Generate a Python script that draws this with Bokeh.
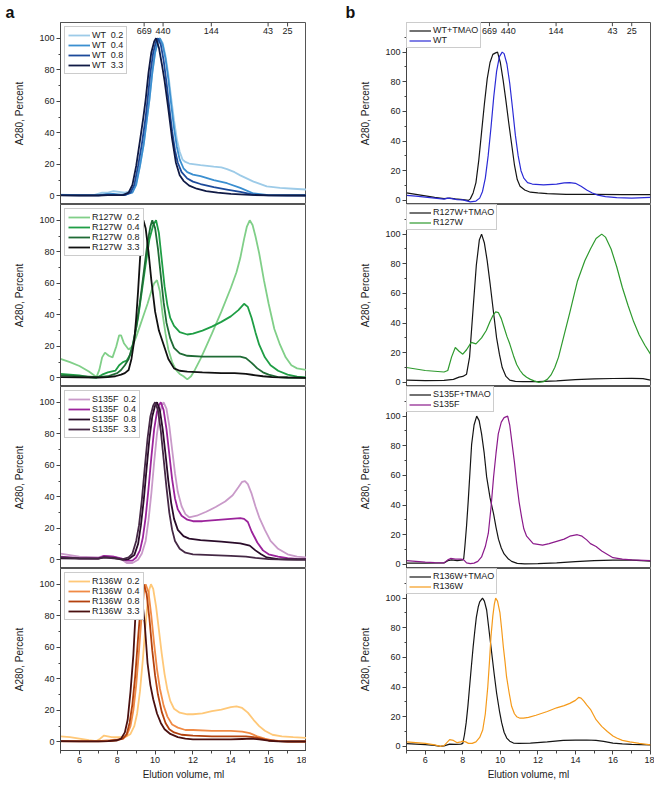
from bokeh.plotting import figure
from bokeh.layouts import column, row
from bokeh.models import Range1d, Legend, LegendItem, FixedTicker
from bokeh.embed import file_html
from bokeh.resources import INLINE
from bokeh.core.properties import value

FONT = "Liberation Sans"

# ---------------- molecular weight markers (kDa) ----------------
mw_labels = ["669", "440", "144", "43", "25"]
mw_volumes = [9.42, 10.42, 12.97, 15.97, 17.0]

# ---------------- panel a : WT ----------------
wt02_x = [5.0, 5.5, 6.0, 6.5, 6.8, 7.2, 7.5, 7.8, 8.1, 8.4, 8.7, 9.0, 9.2, 9.4, 9.58, 9.7, 9.85, 10.0, 10.15, 10.25, 10.4, 10.55, 10.7, 10.85, 11.0, 11.15, 11.3, 11.45, 11.6, 11.8, 12.4, 13.1, 13.5, 13.8, 14.2, 14.5, 15.2, 15.9, 16.6, 17.3, 18.0]
wt02_y = [0.8, 0.6, 0.5, 0.5, 0.6, 2, 2, 3, 2.5, 2, 3, 8, 19, 33, 50, 61, 78, 91, 98, 100, 97, 89, 77, 62, 48, 36, 28, 23, 21.5, 20.5, 19.5, 18.5, 18, 17, 15, 13, 9, 6, 5, 4.5, 4]
wt04_x = [5.0, 6.0, 7.0, 7.4, 7.8, 8.2, 8.5, 8.8, 9.0, 9.2, 9.4, 9.58, 9.7, 9.85, 10.0, 10.15, 10.25, 10.4, 10.55, 10.7, 10.85, 11.0, 11.15, 11.3, 11.5, 11.7, 12.0, 12.4, 13.1, 13.8, 14.5, 15.2, 16.0, 17.0, 18.0]
wt04_y = [0.6, 0.4, 0.4, 1.0, 1.2, 0.8, 1.0, 2, 7, 19, 33, 50, 61, 78, 91, 98, 100, 96, 87, 74, 58, 43, 31, 23, 17.5, 15, 13.5, 12.5, 10, 8, 5, 1.5, 0.5, 0.4, 0.4]
wt08_x = [5.0, 6.0, 7.0, 7.5, 8.0, 8.4, 8.7, 8.9, 9.1, 9.3, 9.5, 9.6, 9.75, 9.9, 10.05, 10.15, 10.3, 10.45, 10.6, 10.75, 10.9, 11.05, 11.2, 11.4, 11.7, 12.0, 12.4, 13.1, 13.8, 14.5, 15.2, 16.0, 17.0, 18.0]
wt08_y = [0.4, 0.3, 0.3, 0.8, 0.6, 0.5, 2, 7, 19, 33, 50, 61, 78, 91, 98, 100, 96, 86, 72, 56, 41, 29, 21, 15, 11, 9, 7.5, 5.5, 4, 2.5, 0.8, 0.3, 0.2, 0.2]
wt33_x = [5.0, 6.0, 7.0, 7.5, 8.0, 8.3, 8.6, 8.8, 9.0, 9.2, 9.38, 9.5, 9.65, 9.8, 9.95, 10.05, 10.2, 10.35, 10.5, 10.7, 10.9, 11.1, 11.3, 11.5, 11.8, 12.2, 12.7, 13.3, 14.0, 15.0, 16.0, 18.0]
wt33_y = [0.3, 0.2, 0.2, 0.5, 0.4, 0.5, 2, 7, 19, 35, 50, 61, 78, 91, 98, 100, 94, 84, 73, 55, 36, 21, 13, 9.5, 6.5, 4.5, 3, 2, 1.2, 0.6, 0.3, 0.2]

# ---------------- panel a : R127W ----------------
r127_02_x = [5.0, 5.5, 6.0, 6.5, 6.9, 7.05, 7.2, 7.35, 7.55, 7.75, 7.95, 8.1, 8.2, 8.35, 8.6, 8.8, 9.0, 9.2, 9.4, 9.6, 9.8, 9.95, 10.1, 10.25, 10.4, 10.55, 10.7, 10.9, 11.1, 11.3, 11.5, 11.7, 11.9, 12.1, 12.4, 12.7, 13.0, 13.5, 14.0, 14.3, 14.5, 14.7, 14.85, 15.0, 15.15, 15.3, 15.5, 15.75, 16.0, 16.3, 16.6, 16.9, 17.2, 17.5, 18.0]
r127_02_y = [12, 10, 7.5, 4, 0.5, 5, 13, 16, 14, 13, 20, 27, 27, 22, 18, 20, 26, 33, 40, 47, 55, 60, 62, 55, 40, 28, 18, 10, 5, 2.5, 1, -1, 1, 5, 12, 20, 28, 42, 57, 67, 76, 88, 96, 100, 97, 90, 79, 62, 47, 31, 21, 13, 8, 6, 5]
r127_04_x = [5.0, 5.5, 6.0, 6.5, 6.9, 7.2, 7.5, 7.9, 8.1, 8.3, 8.5, 8.7, 8.9, 9.1, 9.3, 9.5, 9.7, 9.9, 10.05, 10.2, 10.35, 10.5, 10.65, 10.8, 11.0, 11.3, 11.7, 12.0, 12.5, 13.0, 13.5, 14.0, 14.4, 14.7, 14.9, 15.1, 15.3, 15.5, 15.8, 16.1, 16.5, 17.0, 17.5, 18.0]
r127_04_y = [2.5, 2, 1.5, 0.5, 0, 2, 3.5, 4.5, 8, 10, 11, 15, 25, 38, 55, 72, 88, 97, 100, 92, 75, 58, 46, 38, 33, 29, 27.5, 28, 30, 32.5, 35.5, 39, 43, 47, 45, 38, 29, 21, 13, 8, 4.5, 2, 0.8, 0.3]
r127_08_x = [5.0, 6.0, 7.0, 7.5, 8.0, 8.2, 8.4, 8.6, 8.8, 9.0, 9.2, 9.4, 9.6, 9.75, 9.85, 10.0, 10.15, 10.3, 10.45, 10.6, 10.8, 11.0, 11.3, 11.7, 12.5, 13.5, 14.5, 14.8, 15.1, 15.4, 15.7, 16.0, 16.5, 17.0, 18.0]
r127_08_y = [1.5, 1, 0.5, 1, 3, 5, 8, 12, 20, 32, 48, 67, 86, 96, 100, 95, 82, 65, 48, 35, 25, 19, 15.5, 14, 13.5, 13.5, 13.5, 12.5, 9.5, 6, 3.5, 2, 0.5, 0.2, 0]
r127_33_x = [5.0, 6.0, 7.0, 7.5, 7.9, 8.2, 8.4, 8.6, 8.75, 8.9, 9.0, 9.1, 9.2, 9.3, 9.38, 9.5, 9.65, 9.8, 10.0, 10.2, 10.45, 10.7, 11.0, 11.3, 11.7, 12.5, 13.5, 14.2, 14.8, 15.2, 15.7, 16.2, 17.0, 18.0]
r127_33_y = [0.5, 0.3, 0.2, 0.5, 1, 2, 3, 5, 12, 24, 38, 55, 75, 92, 100, 95, 80, 62, 42, 30, 21, 12, 6, 4.5, 4, 3.5, 3, 3, 2.5, 1.8, 1, 0.5, 0.2, 0]

# ---------------- panel a : S135F ----------------
s135_02_x = [5.0, 5.5, 6.0, 7.0, 7.3, 7.8, 8.2, 8.5, 8.8, 9.1, 9.3, 9.5, 9.65, 9.8, 9.95, 10.1, 10.25, 10.35, 10.45, 10.6, 10.75, 10.9, 11.05, 11.2, 11.4, 11.6, 11.8, 12.2, 12.7, 13.2, 13.7, 14.1, 14.4, 14.6, 14.75, 14.9, 15.1, 15.3, 15.5, 15.8, 16.1, 16.5, 17.0, 17.5, 18.0]
s135_02_y = [4, 3, 2, 1.5, 2.5, 2, 0.5, -2, -2, 0, 4, 12, 25, 42, 62, 80, 93, 98, 100, 96, 85, 70, 55, 43, 34, 29, 27, 28, 30.5, 33.5, 37, 41, 46, 49.5, 50, 48, 42, 34, 27, 19, 12, 7, 3.5, 2, 1.5]
s135_04_x = [5.0, 6.0, 7.0, 7.3, 7.8, 8.2, 8.5, 8.8, 9.0, 9.2, 9.35, 9.5, 9.65, 9.8, 9.95, 10.1, 10.2, 10.3, 10.45, 10.6, 10.75, 10.9, 11.05, 11.2, 11.4, 11.7, 12.0, 12.5, 13.0, 13.5, 14.0, 14.5, 14.7, 14.9, 15.1, 15.4, 15.7, 16.0, 16.5, 17.0, 17.5, 18.0]
s135_04_y = [2, 1, 1, 2.5, 2, 1, -0.5, -0.5, 1.5, 6, 14, 27, 45, 65, 83, 94, 98, 100, 95, 83, 67, 51, 39, 32, 28, 25.5, 24.5, 24.5, 25, 25.5, 26, 26.5, 26, 24, 18, 11, 6, 3.5, 2, 1, 0.6, 0.4]
s135_08_x = [5.0, 6.0, 7.0, 7.3, 7.8, 8.3, 8.6, 8.9, 9.1, 9.25, 9.4, 9.55, 9.7, 9.85, 10.0, 10.1, 10.25, 10.4, 10.55, 10.7, 10.85, 11.0, 11.2, 11.5, 11.8, 12.4, 13.5, 14.5, 15.0, 15.3, 15.6, 15.9, 16.5, 17.5, 18.0]
s135_08_y = [1, 0.8, 0.8, 1.5, 1.2, 0, 0.5, 3, 10, 22, 38, 58, 77, 91, 98, 100, 95, 83, 67, 50, 36, 26, 19, 15, 13.5, 12.5, 11.5, 10.5, 9, 6, 3.5, 1.5, 0.5, 0.2, 0.2]
s135_33_x = [5.0, 6.0, 7.0, 7.3, 7.8, 8.3, 8.6, 8.8, 9.0, 9.15, 9.3, 9.45, 9.6, 9.75, 9.9, 10.0, 10.15, 10.3, 10.45, 10.6, 10.75, 10.9, 11.05, 11.3, 11.6, 12.0, 13.0, 14.0, 14.8, 15.3, 16.0, 17.0, 18.0]
s135_33_y = [1.5, 1, 0.8, 1.5, 1, 0.5, 1.5, 4, 12, 22, 38, 58, 77, 91, 98, 100, 95, 82, 64, 46, 30, 19, 12, 7, 4.5, 3.5, 3, 2.5, 2, 1.2, 0.5, 0.2, 0.2]

# ---------------- panel a : R136W ----------------
r136_02_x = [5.0, 5.5, 6.0, 6.5, 6.9, 7.1, 7.3, 7.5, 7.7, 8.0, 8.3, 8.5, 8.7, 8.9, 9.05, 9.2, 9.35, 9.5, 9.6, 9.7, 9.78, 9.9, 10.05, 10.2, 10.35, 10.5, 10.65, 10.8, 11.0, 11.3, 11.7, 12.0, 12.5, 13.0, 13.5, 14.0, 14.3, 14.6, 14.9, 15.2, 15.5, 15.8, 16.2, 16.7, 17.3, 18.0]
r136_02_y = [3.5, 3, 2, 1, 0.5, 2, 4, 3.5, 3, 3, 3, 3.5, 5, 10, 18, 32, 52, 75, 88, 97, 100, 97, 86, 71, 56, 43, 33, 26, 21, 18.5, 17.5, 17.5, 18, 19.5, 20.5, 22, 22.5, 21.5, 18.5, 14, 10, 7, 4.5, 3.5, 3, 2.5]
r136_04_x = [5.0, 6.0, 7.0, 7.6, 8.0, 8.3, 8.5, 8.7, 8.85, 9.0, 9.15, 9.3, 9.42, 9.5, 9.65, 9.8, 9.95, 10.1, 10.25, 10.45, 10.65, 10.9, 11.2, 11.6, 12.0, 13.0, 14.0, 14.6, 15.0, 15.4, 15.8, 16.2, 16.6, 17.2, 18.0]
r136_04_y = [0.5, 0.5, 0.5, 1, 1.5, 2, 4, 10, 20, 36, 58, 82, 96, 100, 95, 80, 62, 46, 34, 23, 16, 11, 9, 7.5, 7.5, 7, 7, 6.5, 5.5, 3.5, 2, 1, 0.5, 0.2, 0.2]
r136_08_x = [5.0, 6.0, 7.0, 7.6, 8.0, 8.3, 8.5, 8.65, 8.8, 8.95, 9.1, 9.25, 9.4, 9.55, 9.7, 9.85, 10.0, 10.15, 10.35, 10.55, 10.75, 11.0, 11.4, 12.0, 13.0, 14.0, 14.8, 15.2, 15.6, 16.0, 16.5, 17.0, 18.0]
r136_08_y = [0.3, 0.3, 0.3, 0.5, 1, 2, 5, 12, 24, 42, 66, 88, 100, 94, 78, 58, 42, 30, 19, 12, 8, 6, 4.5, 4, 3.5, 3.5, 3.5, 3, 2, 1, 0.4, 0.2, 0.2]
r136_33_x = [5.0, 6.0, 7.0, 7.5, 8.0, 8.2, 8.4, 8.55, 8.7, 8.85, 8.95, 9.05, 9.14, 9.3, 9.45, 9.6, 9.75, 9.9, 10.1, 10.3, 10.5, 10.8, 11.2, 11.6, 12.0, 13.0, 14.0, 14.6, 15.1, 15.5, 16.0, 16.5, 17.0, 18.0]
r136_33_y = [0.5, 0.3, 0.3, 0.5, 1, 2, 6, 14, 32, 55, 78, 93, 100, 92, 75, 50, 36, 27, 18, 12, 8, 5, 3, 2, 1.5, 1.5, 1.5, 1.8, 2, 1.5, 0.7, 0.3, 0.2, 0.2]

# ---------------- panel b ----------------
wtt_x = [5.0, 5.5, 6.0, 6.5, 7.0, 7.3, 7.6, 8.0, 8.3, 8.4, 8.55, 8.7, 8.85, 9.0, 9.15, 9.3, 9.45, 9.6, 9.75, 9.85, 10.0, 10.15, 10.3, 10.45, 10.6, 10.75, 10.9, 11.05, 11.3, 11.6, 12.0, 12.5, 13.5, 15.0, 16.5, 18.0]
wtt_y = [5, 4, 3, 2, 1.2, 1.5, 1, 0.5, 0, 1, 5, 12, 27, 46, 65, 82, 93, 98.5, 99.5, 100, 93, 81, 67, 52, 38, 24, 14, 9.5, 7, 5.5, 5, 4.5, 4, 4, 3.8, 3.8]
wt_x = [5.0, 5.5, 6.0, 6.5, 7.0, 7.2, 7.4, 7.7, 8.0, 8.4, 8.7, 8.9, 9.05, 9.2, 9.35, 9.5, 9.65, 9.8, 9.95, 10.1, 10.2, 10.35, 10.5, 10.65, 10.8, 10.95, 11.1, 11.25, 11.45, 11.7, 12.3, 13.0, 13.4, 13.7, 14.0, 14.3, 14.6, 14.9, 15.2, 15.6, 16.2, 17.0, 18.0]
wt_y = [3.3, 2.8, 2.2, 1.5, 0.8, 1.5, 1.2, 0.5, 0.3, -1, -0.5, 1.5, 6, 15, 30, 49, 70, 87, 97, 100, 99, 92, 79, 62, 44, 30, 20, 15, 12, 11, 10.5, 11, 11.8, 12, 11.5, 9.5, 7, 5, 3.5, 2.5, 1.8, 1.5, 2]

r127t_x = [5.0, 6.0, 7.0, 7.5, 7.8, 8.0, 8.2, 8.36, 8.55, 8.72, 8.88, 9.0, 9.15, 9.3, 9.45, 9.6, 9.8, 9.95, 10.1, 10.3, 10.5, 10.8, 11.2, 12.0, 13.0, 14.0, 15.0, 16.0, 17.0, 17.6, 18.0]
r127t_y = [1.5, 1.2, 1.3, 2, 3.5, 4, 5.5, 17, 50, 79, 96, 100, 94, 82, 67, 51, 30, 19, 10, 4, 1.5, 0.7, 0.5, 0.5, 1, 1.8, 2.3, 2.6, 2.7, 2.5, 1.5]
r127_x = [5.0, 5.5, 6.0, 6.5, 7.0, 7.2, 7.4, 7.6, 7.8, 8.0, 8.2, 8.45, 8.7, 9.0, 9.25, 9.45, 9.6, 9.75, 9.9, 10.05, 10.2, 10.35, 10.5, 10.7, 10.87, 11.05, 11.2, 11.4, 11.6, 11.8, 12.05, 12.3, 12.5, 12.7, 12.9, 13.1, 13.4, 13.7, 14.1, 14.5, 14.8, 15.1, 15.4, 15.6, 15.9, 16.2, 16.5, 16.8, 17.1, 17.4, 17.7, 18.0]
r127_y = [10, 9, 8, 7.5, 7, 8, 17, 23.5, 21, 19, 22, 27, 26, 30, 35, 41, 45, 47.5, 47, 43, 37, 31, 26, 18, 12, 8, 5.5, 3.5, 2, 1, 0, 0.5, 2, 5, 10, 17, 32, 47, 68, 82, 90, 97, 100, 98, 90, 78, 64, 52, 41, 32, 25, 19]

s135t_x = [5.0, 6.0, 7.0, 7.2, 7.4, 7.7, 8.0, 8.05, 8.11, 8.2, 8.29, 8.38, 8.47, 8.6, 8.74, 8.87, 9.0, 9.14, 9.27, 9.45, 9.64, 9.77, 9.9, 10.05, 10.2, 10.4, 10.6, 10.9, 11.3, 12.0, 13.0, 14.0, 15.0, 16.0, 17.0, 18.0]
s135t_y = [0.8, 0.8, 1, 2.5, 3, 2.5, 3, 4, 12, 26, 43, 62, 81, 94, 100, 97, 88, 75, 59, 45, 34, 25, 17, 11, 7, 4, 2, 0.7, 0.3, 0.5, 1, 1.8, 2.5, 2.8, 2.8, 2.2]
s135_x = [5.0, 5.5, 6.0, 6.5, 7.0, 7.2, 7.35, 7.6, 7.9, 8.05, 8.2, 8.4, 8.6, 8.8, 9.0, 9.2, 9.36, 9.5, 9.64, 9.77, 9.89, 10.05, 10.2, 10.39, 10.5, 10.6, 10.75, 10.87, 11.0, 11.13, 11.25, 11.4, 11.75, 12.25, 12.6, 13.0, 13.4, 13.7, 14.1, 14.35, 14.6, 14.8, 15.1, 15.4, 15.8, 16.0, 16.5, 17.0, 18.0]
s135_y = [2.5, 2, 1.5, 1.2, 1, 3, 4, 3.5, 3.5, 3, 1, 0.5, 0.8, 2, 5, 12, 21, 38, 59, 75, 88, 96, 99, 100, 94, 84, 69, 55, 42, 32, 24, 19, 14, 13, 14, 15.5, 17, 19, 20, 19, 16.5, 14, 12, 9, 6, 4.5, 3.5, 3, 2.5]

r136t_x = [5.0, 5.5, 6.0, 6.5, 6.8, 7.0, 7.3, 7.6, 7.9, 8.0, 8.09, 8.18, 8.27, 8.36, 8.45, 8.55, 8.64, 8.72, 8.82, 8.9, 9.05, 9.15, 9.27, 9.4, 9.54, 9.67, 9.8, 9.95, 10.07, 10.2, 10.34, 10.5, 10.7, 11.0, 11.6, 12.5, 13.35, 14.0, 14.6, 15.1, 15.5, 16.0, 16.5, 17.0, 18.0]
r136t_y = [1.8, 1.5, 1.2, 0.7, 0, 0.3, 1.5, 1.3, 1.5, 2, 8, 16, 27, 40, 53, 67, 78, 87, 94, 97.5, 100, 98, 92, 78, 63, 49, 36, 24, 16, 9.5, 5.6, 3.5, 2.2, 2, 2.2, 3, 4, 4.2, 4.3, 4, 3.3, 2.2, 1.7, 1.3, 1]
r136_x = [5.0, 5.5, 6.0, 6.5, 6.8, 7.0, 7.15, 7.3, 7.5, 7.7, 7.9, 8.0, 8.15, 8.3, 8.5, 8.7, 8.9, 9.06, 9.2, 9.33, 9.42, 9.5, 9.6, 9.68, 9.75, 9.85, 9.98, 10.07, 10.16, 10.25, 10.33, 10.47, 10.6, 10.75, 10.87, 11.05, 11.23, 11.5, 11.9, 12.5, 13.0, 13.4, 13.7, 14.0, 14.17, 14.3, 14.45, 14.6, 14.8, 15.1, 15.4, 15.7, 16.0, 16.2, 16.5, 16.9, 17.4, 18.0]
r136_y = [3, 2.5, 2, 1, 0, 0.5, 2.5, 4.5, 4, 2.5, 3, 3.5, 3, 2, 2, 3, 6, 11, 22, 40, 57, 74, 88, 96, 100, 98, 90, 79, 67, 57, 47, 36, 27, 22, 20, 19, 19, 19.5, 21, 23.5, 26, 27.5, 29, 31, 33, 32.5, 30.5, 28, 25, 18, 13.5, 10, 7, 5.6, 4, 3, 2, 1]

conc_labels = ["0.2", "0.4", "0.8", "3.3"]
y_ticks = [0, 20, 40, 60, 80, 100]
x_ticks = [6, 8, 10, 12, 14, 16, 18]
x_minor = [5, 7, 9, 11, 13, 15, 17]

TXT = "#222222"
AX = "#444444"


def make_fig(frame_w, frame_h, ylo, yhi, bl, br, bt, bb, show_x, minor_y):
    p = figure(frame_width=frame_w, frame_height=frame_h,
               x_range=Range1d(5, 18), y_range=Range1d(ylo, yhi),
               output_backend="svg", toolbar_location=None,
               min_border_left=bl, min_border_right=br,
               min_border_top=bt, min_border_bottom=bb)
    p.xgrid.visible = False
    p.ygrid.visible = False
    p.outline_line_color = "#555555"
    p.outline_line_width = 1
    p.background_fill_color = "white"
    p.border_fill_color = "white"
    ya = p.yaxis[0]
    ya.ticker = FixedTicker(ticks=y_ticks, minor_ticks=minor_y)
    ya.axis_label = "A280, Percent"
    ya.axis_label_text_font = FONT
    ya.axis_label_text_font_size = "10px"
    ya.axis_label_text_font_style = "normal"
    ya.axis_label_text_color = TXT
    ya.axis_label_standoff = 11
    ya.major_label_text_font = FONT
    ya.major_label_text_font_size = "9px"
    ya.major_label_text_color = TXT
    ya.major_label_standoff = 2
    ya.axis_line_color = AX
    ya.major_tick_line_color = AX
    ya.minor_tick_line_color = AX
    ya.major_tick_in = 0
    ya.major_tick_out = 4
    ya.minor_tick_in = 0
    ya.minor_tick_out = 2
    xa = p.xaxis[0]
    if show_x:
        xa.ticker = FixedTicker(ticks=x_ticks, minor_ticks=x_minor)
        xa.axis_label = "Elution volume, ml"
        xa.axis_label_text_font = FONT
        xa.axis_label_text_font_size = "10px"
        xa.axis_label_text_font_style = "normal"
        xa.axis_label_text_color = TXT
        xa.axis_label_standoff = 3
        xa.major_label_text_font = FONT
        xa.major_label_text_font_size = "9px"
        xa.major_label_text_color = TXT
        xa.major_label_standoff = 2
        xa.axis_line_color = AX
        xa.major_tick_line_color = AX
        xa.minor_tick_line_color = AX
        xa.major_tick_in = 0
        xa.major_tick_out = 4
        xa.minor_tick_in = 0
        xa.minor_tick_out = 3
    else:
        xa.visible = False
    return p


def add_legend(p, items, margin, padding, row_h):
    leg = Legend(items=items, location="top_left", margin=margin, padding=padding,
                 spacing=0, label_height=row_h, glyph_height=row_h, glyph_width=22,
                 label_standoff=2, label_text_font=FONT, label_text_font_size="9px",
                 label_text_color=TXT, border_line_color="#999999",
                 border_line_width=1, background_fill_color="white",
                 background_fill_alpha=1.0)
    p.add_layout(leg)


def add_mw(p, ylab, ytop, tick):
    p.segment(x0=mw_volumes, y0=[ytop] * len(mw_volumes), x1=mw_volumes,
              y1=[ytop - tick] * len(mw_volumes), line_color=AX, line_width=1)
    p.text(x=mw_volumes, y=[ylab] * len(mw_volumes), text=mw_labels,
           text_font=value(FONT), text_font_size=value("9px"), text_color=TXT,
           text_align="center", text_baseline="middle")


def add_letter(p, letter, offset):
    t = p.title
    t.text = letter
    t.align = "left"
    t.offset = offset
    t.standoff = 0
    t.vertical_align = "top"
    t.text_font = FONT
    t.text_font_size = "16px"
    t.text_font_style = "bold"
    t.text_color = "#111111"


FH = 182
LW, RW = 246, 244
L_BL, R_BL = 60, 100
TOP = 22
BOT = 30

left_sets = [
    ("WT", [(wt02_x, wt02_y), (wt04_x, wt04_y), (wt08_x, wt08_y), (wt33_x, wt33_y)],
     ["#9dcbe8", "#3b8fd0", "#1c4a9a", "#101a45"]),
    ("R127W", [(r127_02_x, r127_02_y), (r127_04_x, r127_04_y), (r127_08_x, r127_08_y), (r127_33_x, r127_33_y)],
     ["#80cf88", "#1f9e45", "#1f6b35", "#111111"]),
    ("S135F", [(s135_02_x, s135_02_y), (s135_04_x, s135_04_y), (s135_08_x, s135_08_y), (s135_33_x, s135_33_y)],
     ["#c99ac9", "#9b239b", "#2a0c2a", "#452845"]),
    ("R136W", [(r136_02_x, r136_02_y), (r136_04_x, r136_04_y), (r136_08_x, r136_08_y), (r136_33_x, r136_33_y)],
     ["#ffc878", "#f08a45", "#b4420e", "#4a1010"]),
]

right_sets = [
    ("WT", (wtt_x, wtt_y), (wt_x, wt_y), "#2b2bd6"),
    ("R127W", (r127t_x, r127t_y), (r127_x, r127_y), "#2e9a2e"),
    ("S135F", (s135t_x, s135t_y), (s135_x, s135_y), "#8b1a8b"),
    ("R136W", (r136t_x, r136t_y), (r136_x, r136_y), "#f59a1a"),
]

left_figs = []
for i, (name, series, colors) in enumerate(left_sets):
    first, last = i == 0, i == len(left_sets) - 1
    p = make_fig(LW, FH, -5.5, 110, L_BL, 0, TOP if first else 0, BOT if last else 0,
                 last, [10, 30, 50, 70, 90])
    items = []
    for (xs, ys), c, lab in zip(series, colors, conc_labels):
        r = p.line(xs, ys, line_color=c, line_width=1.8)
        items.append(LegendItem(label=name + "  " + lab, renderers=[r]))
    add_legend(p, items, 4, 3, 10)
    if first:
        add_mw(p, 104.5, 110, 2.5)
        add_letter(p, "a", -55)
    left_figs.append(p)

right_figs = []
for i, (name, tm, mu, c) in enumerate(right_sets):
    first, last = i == 0, i == len(right_sets) - 1
    p = make_fig(RW, FH, -2.8, 120, R_BL, 4, TOP if first else 0, BOT if last else 0,
                 last, [10, 30, 50, 70, 90, 110])
    r1 = p.line(tm[0], tm[1], line_color="#151515", line_width=1.2)
    r2 = p.line(mu[0], mu[1], line_color=c, line_width=1.2)
    items = [LegendItem(label=name + "+TMAO", renderers=[r1]),
             LegendItem(label=name, renderers=[r2])]
    add_legend(p, items, 0, 2, 9)
    if first:
        add_mw(p, 114, 120, 2.5)
        add_letter(p, "b", -61)
    right_figs.append(p)

layout = row(column(*left_figs), column(*right_figs))

open("out.html", "w").write(file_html(layout, INLINE))
